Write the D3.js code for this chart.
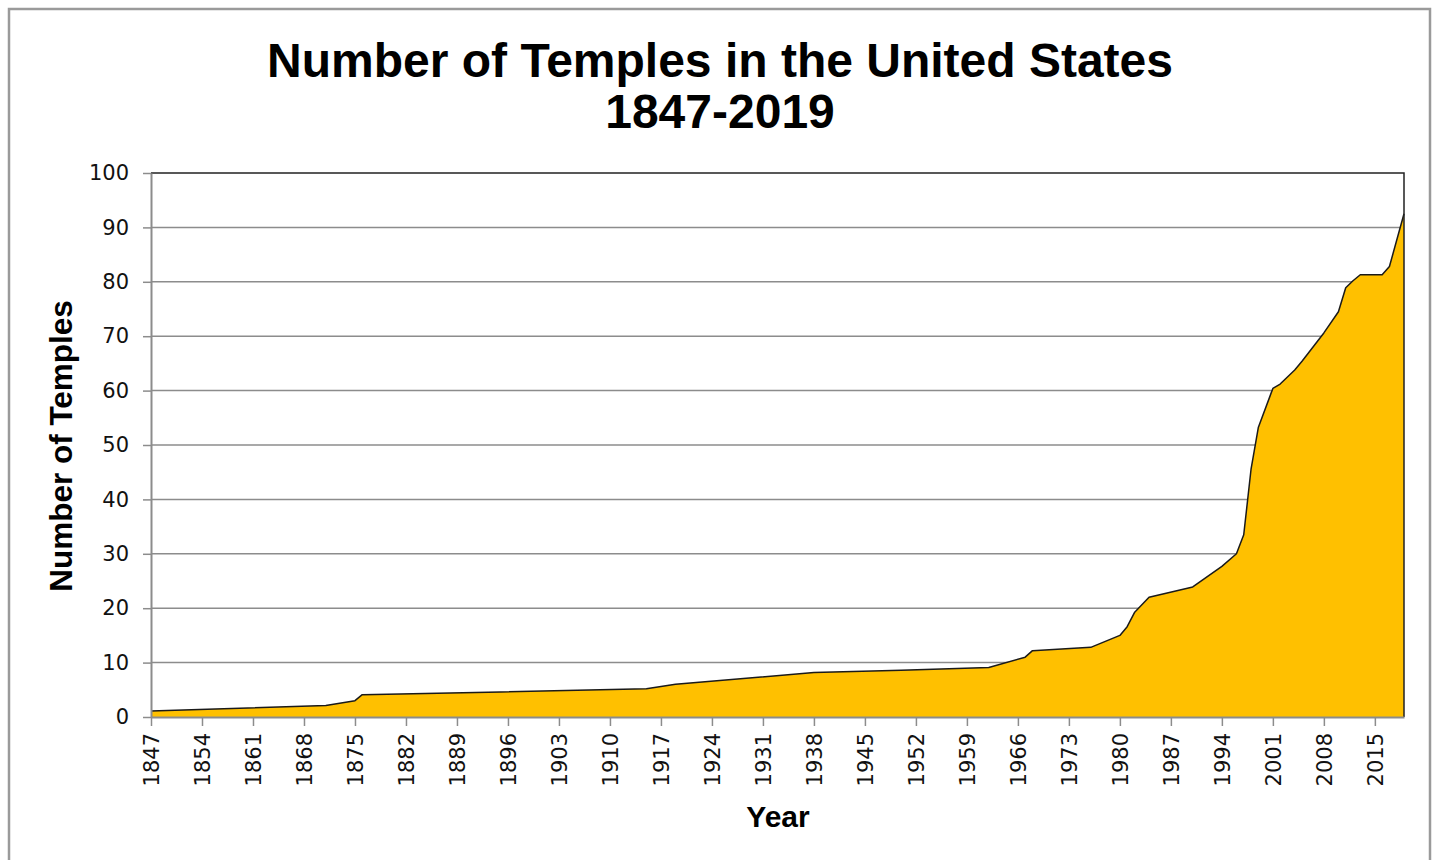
<!DOCTYPE html>
<html>
<head>
<meta charset="utf-8">
<script src="https://cdn.jsdelivr.net/npm/d3@7"></script>
<style>
  body { margin: 0; background: #fff; }
</style>
</head>
<body>
<div id="chart"></div>
<script>
// values
const years   = [1847, 1871, 1875, 1876, 1895, 1915, 1919, 1938, 1950, 1962, 1967, 1968,
                 1976, 1980, 1981, 1982, 1984, 1990, 1994, 1996, 1997, 1998, 1999, 2001,
                 2002, 2004, 2005, 2008, 2010, 2011, 2012, 2013, 2016, 2017, 2019]
const temples = [1.1, 2.1, 3.0, 4.1, 4.6, 5.2, 6.0, 8.2, 8.6, 9.1, 11.0, 12.2,
                 12.8, 15.0, 16.6, 19.2, 22.0, 23.9, 27.7, 30.0, 33.5, 45.5, 53.2, 60.4,
                 61.2, 63.8, 65.4, 70.6, 74.5, 78.9, 80.2, 81.3, 81.3, 82.8, 92.5]
const xTicks = d3.range(1847, 2016, 7)
const yTicks = d3.range(0, 101, 10)

const titleLines = ['Number of Temples in the United States', '1847-2019']

const W = 1437, H = 860
const m = { left: 151, right: 1404, top: 173, bottom: 717 }

const svg = d3.select('#chart').append('svg')
  .attr('width', W)
  .attr('height', H)

// outer frame
svg.append('rect')
  .attr('x', 9).attr('y', 9)
  .attr('width', 1421).attr('height', 880)
  .attr('fill', 'none')
  .attr('stroke', '#9a9a9a')
  .attr('stroke-width', 2.5)

let x = d3.scaleLinear().domain([1847, 2019]).range([m.left, m.right])
let y = d3.scaleLinear().domain([0, 100]).range([m.bottom, m.top])

let data = years.map((yr, i) => ({ year: yr, value: temples[i] }))

// gridlines
svg.append('g')
  .selectAll('line').data(yTicks.slice(1, -1)).join('line')
    .attr('x1', m.left).attr('x2', m.right)
    .attr('y1', d => y(d)).attr('y2', d => y(d))
    .attr('stroke', '#8c8c8c')
    .attr('stroke-width', 1.5)

// area
let area = d3.area()
  .x(d => x(d.year))
  .y0(y(0))
  .y1(d => y(d.value))

svg.append('path')
  .datum(data)
  .attr('d', area)
  .attr('fill', '#ffc000')

svg.append('path')
  .datum(data)
  .attr('d', d3.line().x(d => x(d.year)).y(d => y(d.value)))
  .attr('fill', 'none')
  .attr('stroke', '#1a1a1a')
  .attr('stroke-width', 1.5)
  .attr('stroke-linejoin', 'round')

// plot frame top + right
svg.append('path')
  .attr('d', `M${m.left},${m.top}H${m.right}V${m.bottom}`)
  .attr('fill', 'none')
  .attr('stroke', '#222')
  .attr('stroke-width', 1.5)

// y axis
let yAxis = svg.append('g')
  .attr('transform', `translate(${m.left},0)`)
  .call(d3.axisLeft(y).tickValues(yTicks).tickSize(8).tickPadding(14).tickSizeOuter(0))
yAxis.select('.domain').attr('stroke', '#8c8c8c').attr('stroke-width', 2)
yAxis.selectAll('.tick line').attr('stroke', '#8c8c8c').attr('stroke-width', 1.5)
yAxis.selectAll('.tick text')
  .attr('font-family', 'DejaVu Sans, Verdana, sans-serif')
  .attr('font-size', '21px')
  .attr('fill', '#111')

// x axis
let xAxis = svg.append('g')
  .attr('transform', `translate(0,${m.bottom})`)
  .call(d3.axisBottom(x).tickValues(xTicks).tickFormat(d3.format('d')).tickSize(9).tickSizeOuter(0))
xAxis.select('.domain').attr('stroke', '#8c8c8c').attr('stroke-width', 2)
xAxis.selectAll('.tick line').attr('stroke', '#8c8c8c').attr('stroke-width', 1.5)
xAxis.selectAll('.tick text')
  .attr('font-family', 'DejaVu Sans, Verdana, sans-serif')
  .attr('font-size', '21px')
  .attr('fill', '#111')
  .attr('transform', 'rotate(-90)')
  .attr('text-anchor', 'end')
  .attr('x', -16)
  .attr('y', 0)
  .attr('dy', '0.35em')

// titles
svg.append('g')
  .selectAll('text').data(titleLines).join('text')
    .attr('x', 720)
    .attr('y', (d, i) => 77 + i * 51)
    .attr('text-anchor', 'middle')
    .attr('font-family', 'Liberation Sans, Arial, sans-serif')
    .attr('font-weight', 'bold')
    .attr('font-size', '48px')
    .attr('fill', '#000')
    .text(d => d)

svg.append('text')
  .attr('x', 778)
  .attr('y', 827)
  .attr('text-anchor', 'middle')
  .attr('font-family', 'Liberation Sans, Arial, sans-serif')
  .attr('font-weight', 'bold')
  .attr('font-size', '30px')
  .attr('fill', '#000')
  .text('Year')

svg.append('text')
  .attr('transform', 'translate(72,446) rotate(-90)')
  .attr('text-anchor', 'middle')
  .attr('font-family', 'Liberation Sans, Arial, sans-serif')
  .attr('font-weight', 'bold')
  .attr('font-size', '31.5px')
  .attr('fill', '#000')
  .text('Number of Temples')
</script>
</body>
</html>
